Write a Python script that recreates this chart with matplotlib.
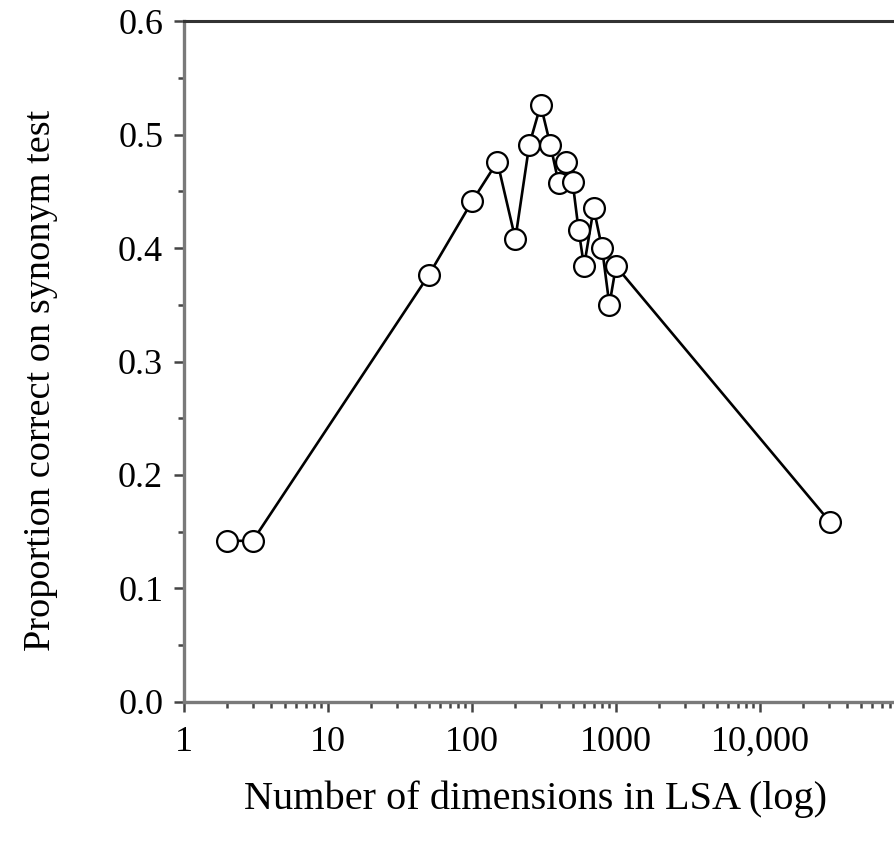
import numpy as np
import matplotlib.pyplot as plt
from matplotlib.ticker import LogLocator, NullFormatter, MultipleLocator

plt.rcParams['font.family'] = ['Liberation Serif', 'DejaVu Serif']

# dimensions and proportion correct
dims = [2, 3, 50, 100, 150, 200, 250, 300, 350, 400, 450, 500, 550, 600,
        700, 800, 900, 1000, 30473]
correct = [0.142, 0.142, 0.376, 0.441, 0.476, 0.408, 0.491, 0.526, 0.491,
           0.457, 0.476, 0.458, 0.416, 0.384, 0.435, 0.400, 0.350, 0.384,
           0.159]

xticks = [1, 10, 100, 1000, 10000]
xlabels = ['1', '10', '100', '1000', '10,000']
yticks = [0.0, 0.1, 0.2, 0.3, 0.4, 0.5, 0.6]

fig = plt.figure(figsize=(8.95, 8.48), dpi=100)
ax = fig.add_axes([0.2056, 0.1722, 0.8044, 0.803])

ax.plot(dims, correct, color='black', lw=1.9, marker='o', ms=15,
        mfc='white', mec='black', mew=1.6, zorder=3, clip_on=False)

ax.set_xscale('log')
ax.set_xlim(1, 1e5)
ax.set_ylim(0, 0.6)

ax.set_xticks(xticks)
ax.set_xticklabels(xlabels)
ax.xaxis.set_minor_locator(LogLocator(base=10, subs=np.arange(2, 10)))
ax.xaxis.set_minor_formatter(NullFormatter())
ax.set_yticks(yticks)
ax.set_yticklabels(['%.1f' % v for v in yticks])
ax.yaxis.set_minor_locator(MultipleLocator(0.05))

ax.tick_params(axis='both', which='major', direction='out', length=7,
               width=1.8, color='#444444', labelsize=26, pad=8)
ax.tick_params(axis='both', which='minor', direction='out', length=4,
               width=1.8, color='#444444')
ax.tick_params(axis='x', which='major', pad=10)

for s in ['left', 'bottom']:
    ax.spines[s].set_color('#7a7a7a')
    ax.spines[s].set_linewidth(2.4)
ax.spines['top'].set_color('#333333')
ax.spines['top'].set_linewidth(2.2)
ax.spines['right'].set_visible(False)

fig.text(0.598, 0.057, 'Number of dimensions in LSA (log)', fontsize=29,
         ha='center', va='center')
fig.text(0.045, 0.552, 'Proportion correct on synonym test', fontsize=27.5,
         rotation=90, ha='center', va='center')

fig.savefig('out.png', dpi=100)
